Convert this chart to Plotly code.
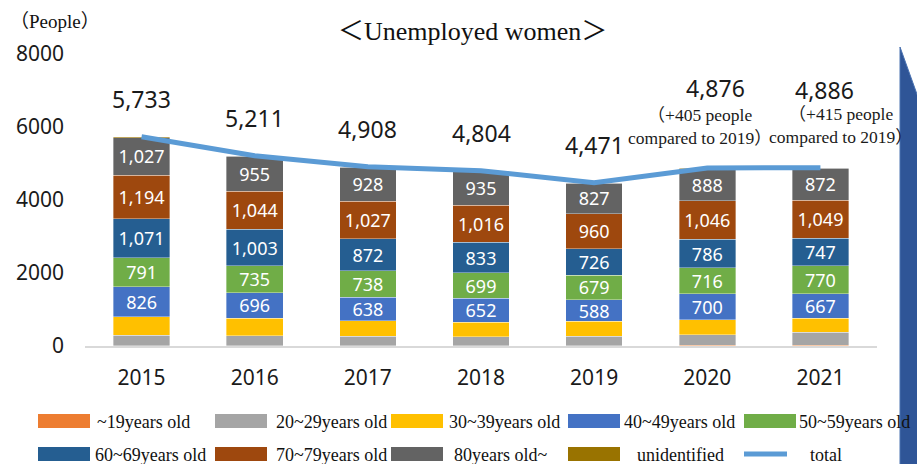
import plotly.graph_objects as go

# Unemployed women by age group (people)
years = ["2015", "2016", "2017", "2018", "2019", "2020", "2021"]
age_u19 = [10, 8, 7, 6, 6, 15, 20]
age_20s = [290, 275, 255, 250, 255, 290, 355]
age_30s = [500, 480, 430, 400, 415, 420, 390]
age_40s = [826, 696, 638, 652, 588, 700, 667]
age_50s = [791, 735, 738, 699, 679, 716, 770]
age_60s = [1071, 1003, 872, 833, 726, 786, 747]
age_70s = [1194, 1044, 1027, 1016, 960, 1046, 1049]
age_80p = [1027, 955, 928, 935, 827, 888, 872]
unidentified = [24, 15, 13, 13, 15, 15, 16]
totals = [5733, 5211, 4908, 4804, 4471, 4876, 4886]

y_ticks = [0, 2000, 4000, 6000, 8000]

series = [
    ("~19years old", age_u19, "#ED7D31", False),
    ("20~29years old", age_20s, "#A5A5A5", False),
    ("30~39years old", age_30s, "#FFC000", False),
    ("40~49years old", age_40s, "#4472C4", True),
    ("50~59years old", age_50s, "#70AD47", True),
    ("60~69years old", age_60s, "#255E91", True),
    ("70~79years old", age_70s, "#9E480E", True),
    ("80years old~", age_80p, "#636363", True),
    ("unidentified", unidentified, "#997300", False),
]

SANS = "Noto Sans, DejaVu Sans, sans-serif"
SERIF = "Liberation Serif, Noto Sans CJK JP, serif"

# plot area in pixels
L, R, T, B = 85, 40, 54, 118
W, H = 917, 464
PW, PH = W - L - R, H - T - B


def px(x):
    return (x - L) / PW


def py(y):
    return (H - B - y) / PH


fig = go.Figure()

for name, vals, color, labelled in series:
    fig.add_trace(go.Bar(
        x=years, y=vals, name=name,
        marker=dict(color=color, line=dict(color="rgba(255,255,255,0.6)", width=0.6)),
        text=[f"{v:,}" for v in vals] if labelled else None,
        textposition="inside" if labelled else "none",
        insidetextanchor="middle",
        textfont=dict(family=SANS, size=18, color="white"),
        showlegend=False,
        hoverinfo="skip",
    ))

fig.add_trace(go.Scatter(
    x=years, y=totals, mode="lines", name="total",
    line=dict(color="#5B9BD5", width=5),
    showlegend=False,
))

annotations = []

# total labels above each bar (category axis: x is the category index)
for i, (yr, tot) in enumerate(zip(years, totals)):
    shift_y, shift_x = 38, 0
    if yr == "2020":
        shift_y, shift_x = 80, 8
    elif yr == "2021":
        shift_y, shift_x = 78, 4
    annotations.append(dict(
        x=i, y=tot, xref="x", yref="y", text=f"{tot:,}", showarrow=False,
        yshift=shift_y, xshift=shift_x,
        font=dict(family=SANS, size=23, color="#1a1a1a"),
    ))

# change versus 2019
base = totals[years.index("2019")]
for yr, dx in (("2020", -7), ("2021", 21)):
    i = years.index(yr)
    diff = totals[i] - base
    annotations.append(dict(
        x=i, y=totals[i], xref="x", yref="y",
        text=f"（+{diff} people<br>compared to 2019）", showarrow=False,
        yshift=42, xshift=dx,
        font=dict(family=SERIF, size=17.5, color="#1a1a1a"),
    ))

annotations.append(dict(
    x=px(472), y=py(32), xref="paper", yref="paper", yanchor="middle",
    text="＜Unemployed women＞", showarrow=False,
    font=dict(family=SERIF, size=26, color="#111111"),
))
annotations.append(dict(
    x=px(8), y=py(21), xref="paper", yref="paper", xanchor="left", yanchor="middle",
    text="（People）", showarrow=False,
    font=dict(family=SERIF, size=19, color="#111111"),
))

shapes = []

# legend: two rows of swatches with labels
legend_items = [
    # (label, color, swatch_x0, text_x, row, is_line)
    ("~19years old", "#ED7D31", 38, 95, 0, False),
    ("20~29years old", "#A5A5A5", 215, 274, 0, False),
    ("30~39years old", "#FFC000", 391, 447, 0, False),
    ("40~49years old", "#4472C4", 568, 622, 0, False),
    ("50~59years old", "#70AD47", 744, 797, 0, False),
    ("60~69years old", "#255E91", 38, 93, 1, False),
    ("70~79years old", "#9E480E", 215, 274, 1, False),
    ("80years old~", "#636363", 391, 452, 1, False),
    ("unidentified", "#997300", 568, 635, 1, False),
    ("total", "#5B9BD5", 744, 808, 1, True),
]
row_y = [421, 454]
for label, color, sx, tx, row, is_line in legend_items:
    cy = row_y[row]
    if is_line:
        shapes.append(dict(
            type="line", xref="paper", yref="paper",
            x0=px(sx), x1=px(sx + 43), y0=py(cy), y1=py(cy),
            line=dict(color=color, width=5),
        ))
    else:
        shapes.append(dict(
            type="rect", xref="paper", yref="paper",
            x0=px(sx), x1=px(sx + 52), y0=py(cy - 7), y1=py(cy + 7),
            fillcolor=color, line=dict(width=0),
        ))
    annotations.append(dict(
        x=px(tx), y=py(cy + 1), xref="paper", yref="paper",
        xanchor="left", yanchor="middle", text=label, showarrow=False,
        font=dict(family=SERIF, size=18, color="#111111"),
    ))

# arrow body on the right edge
shapes.append(dict(
    type="path", xref="paper", yref="paper",
    path=(f"M {px(900)},{py(47)} L {px(918)},{py(97)} "
          f"L {px(918)},{py(470)} L {px(900)},{py(470)} Z"),
    fillcolor="#2F5597", line=dict(color="#4A72B0", width=1),
))

fig.update_layout(
    width=W, height=H,
    margin=dict(l=L, r=R, t=T, b=B),
    barmode="stack", bargap=0.5,
    plot_bgcolor="white", paper_bgcolor="white",
    showlegend=False,
    uniformtext=dict(minsize=18, mode="show"),
    annotations=annotations,
    shapes=shapes,
    xaxis=dict(
        type="category", range=[-0.5, len(years) - 0.5],
        showgrid=False, showline=True, linecolor="#D9D9D9", linewidth=2,
        ticks="", tickfont=dict(family=SANS, size=21, color="#1a1a1a"),
        ticklabelstandoff=12,
    ),
    yaxis=dict(
        range=[0, 8000], tickvals=y_ticks, ticktext=[str(v) for v in y_ticks],
        showgrid=False, zeroline=False, showline=False,
        tickfont=dict(family=SANS, size=21, color="#1a1a1a"),
        ticklabelstandoff=20,
    ),
)

fig.write_html("out.html")
